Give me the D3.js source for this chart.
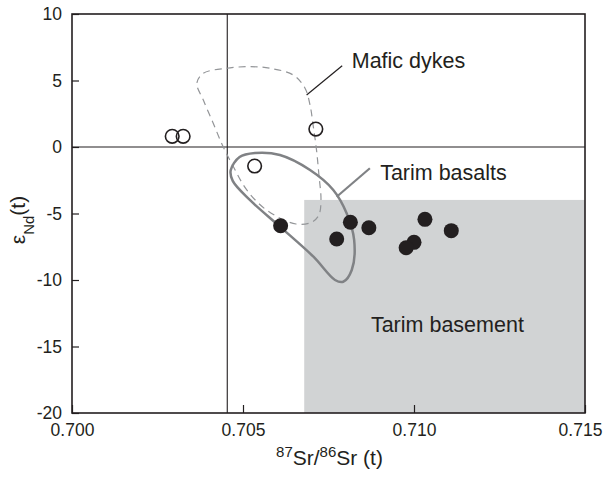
<!DOCTYPE html>
<html>
<head>
<meta charset="utf-8">
<script src="https://cdn.jsdelivr.net/npm/d3@7"></script>
<style>
  body { margin: 0; background: #fff; }
  #chart { width: 604px; height: 477px; }
  text { font-family: "Liberation Sans", Arial, sans-serif; fill: #231f20; }
</style>
</head>
<body>
<div id="chart"></div>
<script>
// tick values
const xTicks = [0.700, 0.705, 0.710, 0.715];
const yTicks = [-20, -15, -10, -5, 0, 5, 10];

// mafic dykes (open circles): [87Sr/86Sr, eNd]
const openSr = [0.70293, 0.70325, 0.70534, 0.70713];
const openNd = [0.8, 0.8, -1.43, 1.35];

// Tarim basalts samples (filled circles)
const fillSr = [0.70610, 0.70814, 0.70774, 0.70868, 0.71032, 0.71000, 0.70977, 0.71109];
const fillNd = [-5.92, -5.66, -6.92, -6.07, -5.44, -7.17, -7.57, -6.29];

// Tarim basement field
const basementSr = [0.70679, 0.715];
const basementNd = [-20, -3.98];

// reference lines (bulk earth)
const refSr = 0.70454;
const refNd = 0;

// field outlines
const dykeSr = [0.70365, 0.70384, 0.70452, 0.70520, 0.70579, 0.70647, 0.70681, 0.70696, 0.70705, 0.70715, 0.70722,
                0.70728, 0.70722, 0.70702, 0.70655, 0.70569, 0.70511, 0.70472, 0.70442, 0.70413, 0.70384];
const dykeNd = [4.79, 5.54, 5.92, 6.04, 5.92, 5.41, 4.44, 3.16, 1.65, -0.23, -2.11,
                -3.98, -5.11, -5.64, -5.79, -4.74, -3.23, -1.48, 0.02, 1.78, 3.53];
const basaltSr = [0.70464, 0.70490, 0.70535, 0.70608, 0.70696, 0.70764, 0.70803, 0.70825, 0.70818, 0.70793, 0.70769,
                  0.70706, 0.70608, 0.70520, 0.70470];
const basaltNd = [-1.75, -0.75, -0.45, -0.60, -1.73, -3.23, -4.98, -6.99, -9.25, -10.13, -10.0,
                  -8.25, -5.99, -3.98, -2.55];

// labels with leader lines
const labelText = ["Mafic dykes", "Tarim basalts", "Tarim basement"];
const labelSr = [0.70818, 0.70901, 0.70874];
const labelNd = [5.96, -2.48, -13.89];
const leaderSr = [[0.70790, 0.70686], [0.70871, 0.70774]];
const leaderNd = [[6.11, 3.91], [-1.60, -3.74]];

const margin = {top: 14, right: 19, bottom: 64, left: 72};
const width = 604 - margin.left - margin.right;
const height = 477 - margin.top - margin.bottom;

const svg = d3.select("#chart").append("svg")
    .attr("width", 604)
    .attr("height", 477)
  .append("g")
    .attr("transform", "translate(" + margin.left + "," + margin.top + ")");

const x = d3.scaleLinear().domain([0.700, 0.715]).range([0, width]);
const y = d3.scaleLinear().domain([-20, 10]).range([height, 0]);

// basement field
svg.append("rect")
    .attr("x", x(basementSr[0]))
    .attr("y", y(basementNd[1]))
    .attr("width", x(basementSr[1]) - x(basementSr[0]))
    .attr("height", y(basementNd[0]) - y(basementNd[1]))
    .attr("fill", "#d1d3d4");

// reference lines
svg.append("line")
    .attr("x1", x(refSr)).attr("x2", x(refSr))
    .attr("y1", 0).attr("y2", height)
    .attr("stroke", "#231f20").attr("stroke-width", 1.1);
svg.append("line")
    .attr("x1", 0).attr("x2", width)
    .attr("y1", y(refNd)).attr("y2", y(refNd))
    .attr("stroke", "#231f20").attr("stroke-width", 1.1);

// field outlines
const outline = d3.line()
    .x(d => x(d[0]))
    .y(d => y(d[1]))
    .curve(d3.curveCatmullRomClosed.alpha(0.5));

svg.append("path")
    .attr("d", outline(d3.zip(dykeSr, dykeNd)))
    .attr("fill", "none")
    .attr("stroke", "#939598")
    .attr("stroke-width", 1.2)
    .attr("stroke-dasharray", "7,5");

svg.append("path")
    .attr("d", outline(d3.zip(basaltSr, basaltNd)))
    .attr("fill", "none")
    .attr("stroke", "#808285")
    .attr("stroke-width", 2.5);

// leader lines
const leaderColor = ["#231f20", "#808285"];
const leaderWidth = [1.2, 2.2];
leaderSr.forEach((s, i) => {
    svg.append("line")
        .attr("x1", x(s[0])).attr("y1", y(leaderNd[i][0]))
        .attr("x2", x(s[1])).attr("y2", y(leaderNd[i][1]))
        .attr("stroke", leaderColor[i])
        .attr("stroke-width", leaderWidth[i]);
});

// points
svg.append("g")
    .selectAll("circle")
    .data(d3.zip(openSr, openNd))
    .enter()
    .append("circle")
    .attr("cx", d => x(d[0]))
    .attr("cy", d => y(d[1]))
    .attr("r", 6.8)
    .attr("fill", "none")
    .attr("stroke", "#231f20")
    .attr("stroke-width", 1.6);

svg.append("g")
    .selectAll("circle")
    .data(d3.zip(fillSr, fillNd))
    .enter()
    .append("circle")
    .attr("cx", d => x(d[0]))
    .attr("cy", d => y(d[1]))
    .attr("r", 7.5)
    .attr("fill", "#231f20");

// labels
svg.append("g")
    .selectAll("text")
    .data(labelText)
    .enter()
    .append("text")
    .attr("x", (d, i) => x(labelSr[i]))
    .attr("y", (d, i) => y(labelNd[i]))
    .attr("font-size", "21.5px")
    .text(d => d);

// axes (ticks pointing inward)
const xAxis = d3.axisBottom(x)
    .tickValues(xTicks)
    .tickFormat(d3.format(".3f"))
    .tickSizeInner(-8)
    .tickSizeOuter(0)
    .tickPadding(11);
const yAxis = d3.axisLeft(y)
    .tickValues(yTicks)
    .tickFormat(d => String(d))
    .tickSizeInner(-7)
    .tickSizeOuter(0)
    .tickPadding(10);

const gx = svg.append("g")
    .attr("class", "x-axis axis")
    .attr("transform", "translate(0," + height + ")")
    .call(xAxis);
const gy = svg.append("g")
    .attr("class", "y-axis axis")
    .call(yAxis);

[gx, gy].forEach(g => {
    g.selectAll("text").attr("font-size", "17.5px").attr("font-family", "Liberation Sans, Arial, sans-serif").attr("fill", "#231f20");
    g.selectAll("line").attr("stroke", "#231f20").attr("stroke-width", 1.2);
    g.select(".domain").attr("stroke", "none");
});
// keep the last x label inside the page
gx.selectAll(".tick text").filter(d => d === 0.715).attr("dx", "-5");

// frame
svg.append("rect")
    .attr("x", 0).attr("y", 0)
    .attr("width", width).attr("height", height)
    .attr("fill", "none")
    .attr("stroke", "#231f20")
    .attr("stroke-width", 1.6);

// axis titles
const xt = svg.append("text")
    .attr("x", width / 2 + 1)
    .attr("y", height + 52)
    .attr("text-anchor", "middle")
    .attr("font-size", "21px");
xt.append("tspan").attr("baseline-shift", "super").attr("font-size", "15px").text("87");
xt.append("tspan").text("Sr/");
xt.append("tspan").attr("baseline-shift", "super").attr("font-size", "15px").text("86");
xt.append("tspan").text("Sr (t)");

const yt = svg.append("text")
    .attr("transform", "translate(" + (25 - margin.left) + "," + (220 - margin.top) + ") rotate(-90)")
    .attr("text-anchor", "middle")
    .attr("font-size", "21px");
yt.append("tspan").text("ε");
yt.append("tspan").attr("baseline-shift", "sub").attr("font-size", "15px").text("Nd");
yt.append("tspan").text("(t)");
</script>
</body>
</html>
